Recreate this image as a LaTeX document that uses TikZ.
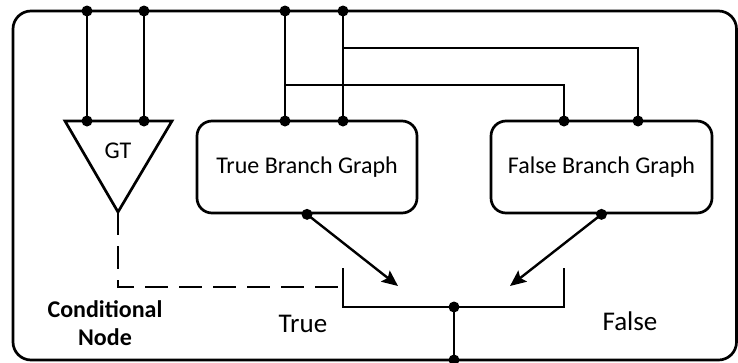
\documentclass[tikz,border=0pt]{standalone}
\usepackage{fontspec}
\setmainfont{Carlito}
\usetikzlibrary{arrows.meta}
\begin{document}
\begin{tikzpicture}[x=1pt,y=-1pt,
  wire/.style={line width=2.7pt},
  dashwire/.style={line width=2.7pt,dash pattern=on 23pt off 11pt},
  flow/.style={line width=2.4pt,-{Stealth[length=16pt,width=14pt,inset=3pt]}},
  dot/.style={circle,fill,inner sep=0pt,minimum size=11pt},
  graphbox/.style={draw,line width=2.7pt,rounded corners=15pt,
    minimum height=92pt,inner sep=0pt,font=\fontsize{24}{28}\selectfont},
  lbl/.style={inner sep=0pt,anchor=base}]
\useasboundingbox (0,0) rectangle (738,362);

% outer frame of the conditional node
\draw[wire,rounded corners=18pt] (13,11) rectangle (736.5,360);

% branch subgraphs
\node[graphbox,minimum width=220pt] (tb) at (307,167) {True Branch Graph};
\node[graphbox,minimum width=221pt] (fb) at (601.5,167) {False Branch Graph};

% comparison block (GT)
\coordinate (gl) at (65,121);
\coordinate (gr) at (172,121);
\coordinate (ga) at (118,212);
\draw[wire,line join=miter] (gl) -- (gr) -- (ga) -- cycle;
\node[lbl,font=\fontsize{24}{28}\selectfont] (gt) at (118,158) {GT};

% input terminals on the frame
\node[dot] (i1) at (87,11) {};
\node[dot] (i2) at (144,11) {};
\node[dot] (i3) at (285,11) {};
\node[dot] (i4) at (343,11) {};

% input pins
\node[dot] (g1) at (87,121) {};
\node[dot] (g2) at (144,121) {};
\node[dot] (t1) at (285,121) {};
\node[dot] (t2) at (343,121) {};
\node[dot] (f1) at (564,121) {};
\node[dot] (f2) at (638,121) {};

% output pins
\node[dot] (to) at (tb.south) {};
\node[dot] (fo) at (fb.south) {};

% selector bracket
\coordinate (sl) at (343,268);
\coordinate (sr) at (564,268);
\node[dot] (so) at (454,307) {};
\node[dot] (out) at (454,360) {};
\coordinate (ta) at (398,286);
\coordinate (fa) at (510,286);

% input wiring
\draw[wire] (i1.center) -- (g1.center);
\draw[wire] (i2.center) -- (g2.center);
\draw[wire] (i3.center) -- (t1.center);
\draw[wire] (i4.center) -- (t2.center);
\draw[wire] (285,85) -| (f1.center);
\draw[wire] (343,48) -| (f2.center);

% selector and output
\draw[wire,line join=miter] (sl) -- (sl |- so) -- (sr |- so) -- (sr);
\draw[wire] (so.center) -- (out.center);

% branch results into the selector
\draw[flow] (to.center) -- (ta);
\draw[flow] (fo.center) -- (fa);

% condition signal
\draw[dashwire] (ga) |- (sl |- 0,287);

% labels
\node[lbl,font=\bfseries\fontsize{24}{28}\selectfont] (c1) at (105,317) {Conditional};
\node[lbl,font=\bfseries\fontsize{24}{28}\selectfont] (c2) at (105,345) {Node};
\node[lbl,font=\fontsize{27}{32}\selectfont] (lt) at (303,332) {True};
\node[lbl,font=\fontsize{27}{32}\selectfont] (lf) at (630,330) {False};
\end{tikzpicture}
\end{document}
